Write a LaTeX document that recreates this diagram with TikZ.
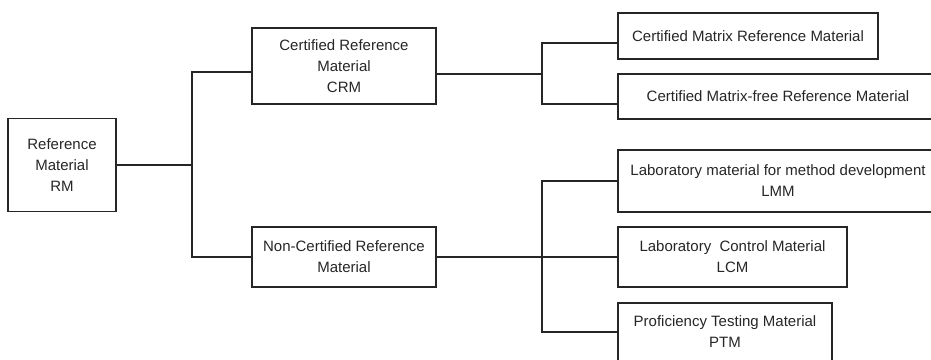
\documentclass[tikz,border=0pt]{standalone}
\usepackage{fontspec}
\setmainfont{Liberation Sans}
\usetikzlibrary{positioning}

\tikzset{
  box/.style={draw=black!85, line width=1.2pt, align=center, inner sep=0pt, outer sep=0pt,
    text=black!85, font=\fontsize{15}{21}\selectfont},
  link/.style={draw=black!85, line width=1.2pt},
}

\begin{document}
\begin{tikzpicture}[x=1pt,y=-1pt]
        \useasboundingbox (0,0) rectangle (931,359);
        \clip (0,0) rectangle (931,359);

        \node[box,minimum width=108pt,minimum height=93pt] (rm) at (62,165) {Reference\\Material\\RM};
        \node[box,minimum width=184pt,minimum height=76pt] (crm) at (344,66) {Certified Reference\\Material\\CRM};
        \node[box,minimum width=184pt,minimum height=60pt] (ncrm) at (344,257) {Non-Certified Reference\\Material};

        \node[box,minimum width=260pt,minimum height=46pt] (cmrm) at (748,36) {Certified Matrix Reference Material};
        \node[box,minimum width=320pt,minimum height=45pt] (cmfrm) at (778,96.5) {Certified Matrix-free Reference Material};
        \node[box,minimum width=320pt,minimum height=62pt] (lmm) at (778,181) {Laboratory material for method development\\LMM};
        \node[box,minimum width=229pt,minimum height=60pt] (lcm) at (732.5,257) {Laboratory\ \ Control Material\\LCM};
        \node[box,minimum width=214pt,minimum height=58pt] (ptm) at (725,332) {Proficiency Testing Material\\PTM};

        \coordinate (j1) at (192,165);
        \coordinate (j2) at (542,74);
        \coordinate (j3) at (542,257);

        \draw[link] (rm.east) -- (j1);
        \draw[link] ([yshift=-6pt]crm.west) -| (j1 |- ncrm.west) -- (ncrm.west);

        \draw[link] ([yshift=-8pt]crm.east) -- (j2);
        \draw[link] ([yshift=-7pt]cmrm.west) -| (j2) |- ([yshift=-7.5pt]cmfrm.west);

        \draw[link] (ncrm.east) -- (lcm.west);
        \draw[link] (lmm.west) -| (j3 |- ptm.west) -- (ptm.west);
\end{tikzpicture}
\end{document}
